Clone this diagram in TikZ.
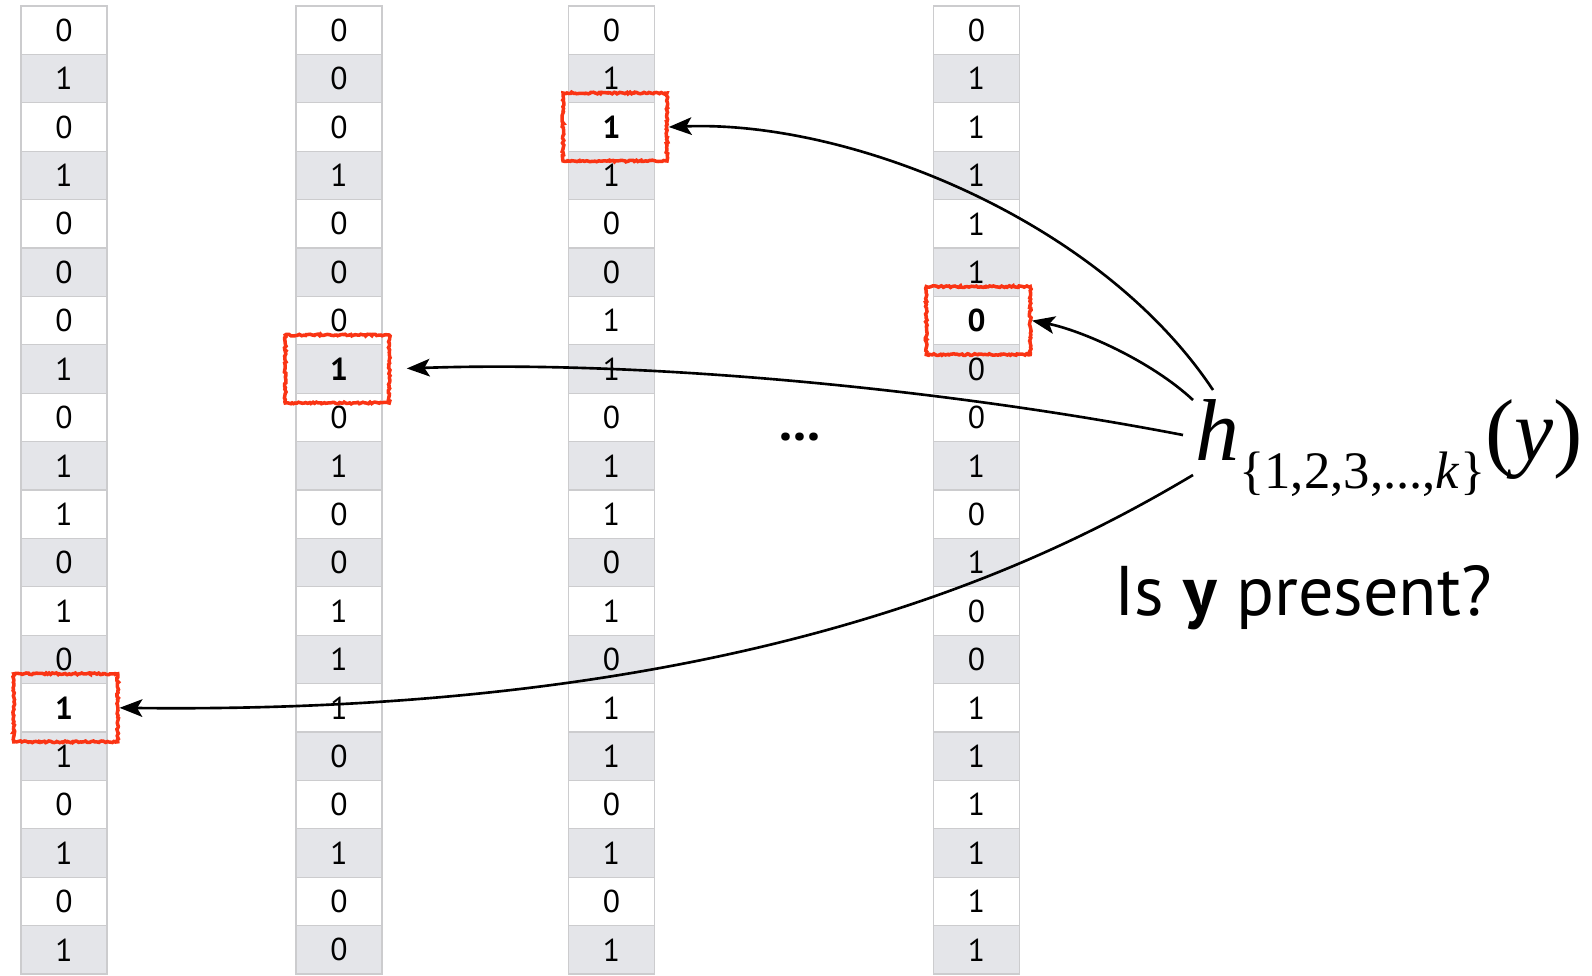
\documentclass[tikz,border=0pt]{standalone}
\usepackage{fontspec}
\usepackage{tikz}
\usetikzlibrary{arrows.meta,decorations.pathmorphing}
\setmainfont{PT Sans}
\newfontfamily\timesf{Liberation Serif}
\definecolor{cellgray}{RGB}{228,229,233}
\definecolor{gridgray}{RGB}{204,204,206}
\definecolor{hitred}{RGB}{250,52,20}
\tikzset{
  cell/.style={draw=gridgray, line width=0.6pt, minimum width=1.72cm, minimum height=0.968cm,
    inner sep=0pt, font=\fontsize{18}{21}\selectfont},
  hitbox/.style={draw=hitred, line width=2pt, minimum width=2.08cm, minimum height=1.36cm,
    decorate, decoration={random steps, segment length=1pt, amplitude=0.5pt}},
  hashto/.style={-{Stealth[length=13pt,width=10pt,inset=3pt]}, line width=1.5pt}
}

\begin{document}
\begin{tikzpicture}[x=0.02cm, y=-0.02cm]
        \useasboundingbox (0,0) rectangle (1592,975);

        % 位数组
        \foreach \col/\xc/\vals in {
            1/64/{0,1,0,1,0,0,0,1,0,1,1,0,1,0,\textbf{1},1,0,1,0,1},
            2/339/{0,0,0,1,0,0,0,\textbf{1},0,1,0,0,1,1,1,0,0,1,0,0},
            3/611.5/{0,1,\textbf{1},1,0,0,1,1,0,1,1,0,1,0,1,1,0,1,0,1},
            4/976.5/{0,1,1,1,1,1,\textbf{0},0,0,1,0,1,0,0,1,1,1,1,1,1}}{
          \foreach \v [count=\r from 0] in \vals {
            \ifodd\r \def\cfill{cellgray}\else \def\cfill{white}\fi
            \node[cell, fill=\cfill] (c\col-\r) at (\xc,{30.2+48.4*\r}) {\v};
          }
        }

        % 命中的位
        \node[hitbox] (hitA) at ([xshift=1pt]c1-14) {};
        \node[hitbox] (hitB) at ([xshift=-1pt]c2-7) {};
        \node[hitbox] (hitC) at ([xshift=2pt]c3-2) {};
        \node[hitbox] (hitD) at ([xshift=1pt]c4-6) {};

        \node[anchor=base, font=\fontsize{30}{32}\selectfont\bfseries] (gap) at (800,440) {...};

        % 哈希函数
        \node[anchor=base west, inner sep=0pt] (hfun) at (1195,460)
          {\timesf\fontsize{50}{54}\selectfont\textit{h}\raisebox{-16pt}{\fontsize{30}{33}\selectfont\{1,2,3,...,\textit{k}\}}(\textit{y})};
        \node[anchor=base west, inner sep=0pt, font=\fontsize{40}{44}\selectfont] (query) at (1114,615)
          {Is \textbf{y} present?};

        \coordinate (s1) at (1213,390);
        \coordinate (s2) at (1193,400);
        \coordinate (s3) at (1183,435);
        \coordinate (s4) at (1193,475);

        \draw[hashto] (s1) .. controls (1100,220) and (850,120) .. (hitC.east);
        \draw[hashto] (s2) .. controls (1150,360) and (1080,330) .. (hitD.east);
        \draw[hashto, shorten >=9pt] (s3) .. controls (950,390) and (650,360) .. (hitB.east);
        \draw[hashto] (s4) .. controls (1050,560) and (750,715) .. (hitA.east);
    \end{tikzpicture}
\end{document}
